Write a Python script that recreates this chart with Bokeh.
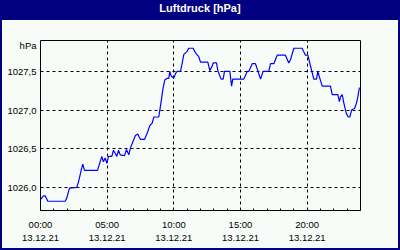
from bokeh.plotting import figure
from bokeh.models import Range1d, FixedTicker, LinearAxis, Div
from bokeh.layouts import column, row
from bokeh.embed import file_html
from bokeh.resources import INLINE

title_text = "Luftdruck [hPa]"
unit_text = "hPa"
date_text = "13.12.21"

hours = [0.0, 0.22, 0.35, 0.55, 1.85, 1.97, 2.17, 2.72, 2.85, 3.05,
         3.17, 3.3, 4.28, 4.4, 4.6, 4.72, 4.85, 4.97, 5.1, 5.35,
         5.47, 5.6, 5.72, 5.85, 5.98, 6.3, 6.45, 6.62, 6.75, 6.95,
         7.12, 7.3, 7.37, 7.5, 7.8, 8.0, 8.2, 8.38, 8.5, 8.87,
         8.95, 9.05, 9.17, 9.32, 9.5, 9.62, 9.7, 9.8, 10.0, 10.12,
         10.25, 10.5, 10.63, 10.75, 11.0, 11.12, 11.45, 11.63, 11.87, 12.0,
         12.55, 12.7, 12.88, 12.95, 13.2, 13.3, 13.45, 13.55, 13.7, 13.8,
         14.2, 14.33, 14.42, 15.25, 15.5, 15.62, 15.88, 16.12, 16.3, 16.5,
         16.7, 17.12, 17.25, 17.5, 17.75, 18.37, 18.62, 18.75, 19.0, 19.62,
         19.87, 20.05, 20.25, 20.5, 20.7, 20.8, 20.95, 21.13, 21.75, 21.88,
         22.3, 22.42, 22.5, 22.63, 22.75, 22.93, 23.08, 23.2, 23.33, 23.55,
         23.7, 23.8, 23.92]

pressure = [1025.84, 1025.89, 1025.89, 1025.82, 1025.82, 1025.86, 1025.99, 1026.00, 1026.07, 1026.22,
            1026.30, 1026.22, 1026.22, 1026.29, 1026.40, 1026.33, 1026.38, 1026.31, 1026.40, 1026.40,
            1026.48, 1026.44, 1026.40, 1026.48, 1026.42, 1026.41, 1026.49, 1026.42, 1026.51, 1026.60,
            1026.67, 1026.69, 1026.66, 1026.62, 1026.62, 1026.70, 1026.80, 1026.83, 1026.91, 1026.91,
            1027.00, 1027.11, 1027.26, 1027.39, 1027.41, 1027.41, 1027.50, 1027.44, 1027.41, 1027.47,
            1027.50, 1027.50, 1027.61, 1027.72, 1027.76, 1027.80, 1027.80, 1027.74, 1027.69, 1027.62,
            1027.62, 1027.51, 1027.57, 1027.61, 1027.61, 1027.51, 1027.44, 1027.40, 1027.40, 1027.50,
            1027.50, 1027.31, 1027.40, 1027.40, 1027.50, 1027.50, 1027.60, 1027.60, 1027.51, 1027.40,
            1027.50, 1027.50, 1027.60, 1027.60, 1027.71, 1027.71, 1027.61, 1027.65, 1027.80, 1027.80,
            1027.71, 1027.71, 1027.57, 1027.40, 1027.40, 1027.50, 1027.41, 1027.31, 1027.31, 1027.20,
            1027.20, 1027.11, 1027.17, 1027.20, 1027.09, 1026.96, 1026.91, 1026.91, 1027.00, 1027.02,
            1027.09, 1027.17, 1027.29]

x_ticks = [0, 5, 10, 15, 20]
x_tick_labels = ["00:00", "05:00", "10:00", "15:00", "20:00"]
y_ticks = [1026.0, 1026.5, 1027.0, 1027.5]
y_tick_labels = ["1026,0", "1026,5", "1027,0", "1027,5"]
unit_tick = 1027.835  # where the "hPa" unit caption sits on the y axis

assert len(hours) == len(pressure)

BG = "#F8FCF8"
NAVY = "#000080"
FONT = "Liberation Sans"
FS = "9.5px"

p = figure(width=396, height=228, output_backend="svg", toolbar_location=None,
           x_range=Range1d(0, 24), y_range=Range1d(1025.7, 1027.9),
           min_border_left=38, min_border_right=38, min_border_top=20, min_border_bottom=38,
           background_fill_color=BG, border_fill_color=BG,
           outline_line_color="black", outline_line_width=1, margin=0)

p.line(hours, pressure, line_color="#0000FF", line_width=1.2)

# x axis: times
xa = p.xaxis[0]
xa.ticker = FixedTicker(ticks=x_ticks, minor_ticks=list(range(0, 25)))
xa.major_label_overrides = {t: l for t, l in zip(x_ticks, x_tick_labels)}
xa.axis_line_color = "black"
xa.major_tick_line_color = None
xa.major_tick_in = 0
xa.major_tick_out = 0
xa.minor_tick_line_color = "black"
xa.minor_tick_in = 2
xa.minor_tick_out = 0
xa.major_label_standoff = 8
xa.major_label_text_font = FONT
xa.major_label_text_font_size = FS
xa.major_label_text_color = "black"

# x axis: dates
xa2 = LinearAxis(ticker=FixedTicker(ticks=x_ticks, minor_ticks=[]),
                 major_label_overrides={t: date_text for t in x_ticks},
                 axis_line_color=None, major_tick_line_color=None,
                 minor_tick_line_color=None,
                 major_tick_in=0, major_tick_out=0, minor_tick_in=0, minor_tick_out=0,
                 major_label_standoff=2,
                 major_label_text_font=FONT, major_label_text_font_size=FS,
                 major_label_text_color="black")
p.add_layout(xa2, "below")

ya = p.yaxis[0]
ya.ticker = FixedTicker(ticks=y_ticks + [unit_tick], minor_ticks=[])
overrides = {t: l for t, l in zip(y_ticks, y_tick_labels)}
overrides[unit_tick] = unit_text
ya.major_label_overrides = overrides
ya.axis_line_color = None
ya.major_tick_line_color = None
ya.minor_tick_line_color = None
ya.major_tick_in = 0
ya.major_tick_out = 0
ya.minor_tick_in = 0
ya.minor_tick_out = 0
ya.major_label_standoff = 4
ya.major_label_text_font = FONT
ya.major_label_text_font_size = FS
ya.major_label_text_color = "black"

p.xgrid.ticker = FixedTicker(ticks=x_ticks, minor_ticks=[])
p.ygrid.ticker = FixedTicker(ticks=y_ticks, minor_ticks=[])
for g in (p.xgrid[0], p.ygrid[0]):
    g.grid_line_color = "black"
    g.grid_line_dash = "3 3"
    g.grid_line_width = 1

title_bar = Div(text=title_text, width=400, height=20, margin=0,
                styles={"background-color": NAVY, "color": "white",
                        "font-family": FONT, "font-weight": "bold",
                        "font-size": "11px", "text-align": "center",
                        "line-height": "17px", "overflow": "hidden"})
left_edge = Div(text="", width=2, height=228, margin=0, styles={"background-color": NAVY})
right_edge = Div(text="", width=2, height=228, margin=0, styles={"background-color": NAVY})
bottom_edge = Div(text="", width=400, height=2, margin=0, styles={"background-color": NAVY})

layout = column(title_bar, row(left_edge, p, right_edge, spacing=0, margin=0),
                bottom_edge, spacing=0, margin=0)

open("out.html", "w").write(file_html(layout, INLINE))
